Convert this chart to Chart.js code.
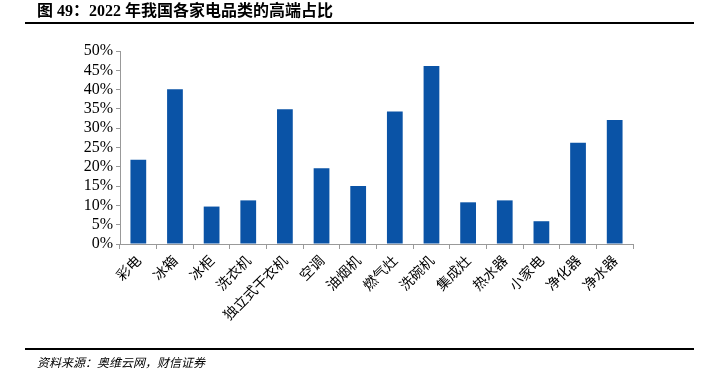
<!DOCTYPE html>
<html>
<head>
<meta charset="utf-8">
<script src="https://cdn.jsdelivr.net/npm/chart.js@4"></script>
<style>
  html, body { margin: 0; padding: 0; background: #fff; }
  #wrap { position: relative; width: 705px; height: 377px; }
</style>
</head>
<body>
<div id="wrap"><canvas id="chart" width="705" height="377"></canvas></div>
<script>
var categories = ["彩电", "冰箱", "冰柜", "洗衣机", "独立式干衣机", "空调", "油烟机", "燃气灶", "洗碗机", "集成灶", "热水器", "小家电", "净化器", "净水器"];
var highEndShare = [21.8, 40.1, 9.7, 11.3, 34.9, 19.6, 15.0, 34.3, 46.1, 10.8, 11.3, 5.9, 26.2, 32.1];
var titleText = "图 49：2022 年我国各家电品类的高端占比";
var sourceText = "资料来源：奥维云网，财信证券";

// title, footer and the two rules
var framePlugin = {
  id: "frame",
  afterDraw: function(chart) {
    var ctx = chart.ctx;
    ctx.save();
    ctx.fillStyle = "#000";
    ctx.textBaseline = "middle";
    ctx.font = "bold 16px 'Liberation Serif', 'Noto Sans CJK SC'";
    ctx.fillText(titleText, 37, 12);
    ctx.font = "italic 12px 'Noto Sans CJK SC'";
    ctx.fillText(sourceText, 37, 362);
    ctx.strokeStyle = "#000";
    ctx.lineWidth = 2;
    ctx.beginPath();
    ctx.moveTo(25, 23); ctx.lineTo(694, 23);
    ctx.moveTo(25, 349); ctx.lineTo(694, 349);
    ctx.stroke();
    ctx.restore();
  }
};

var ctx = document.getElementById("chart").getContext("2d");
new Chart(ctx, {
  type: "bar",
  data: {
    labels: categories,
    datasets: [{
      data: highEndShare,
      backgroundColor: "#0A53A6",
      barPercentage: 0.43,
      categoryPercentage: 1
    }]
  },
  options: {
    responsive: false,
    animation: false,
    layout: { padding: { left: 0, right: 72, top: 51, bottom: 0 } },
    plugins: { legend: { display: false }, tooltip: { enabled: false } },
    scales: {
      x: {
        afterFit: function(scale) { scale.height = 133; },
        grid: { offset: true, drawOnChartArea: false, tickLength: 5, color: "#999" },
        border: { color: "#999" },
        ticks: {
          minRotation: 45, maxRotation: 45, padding: 3, autoSkip: false,
          color: "#000",
          font: { family: "'Noto Sans CJK SC'", size: 14 }
        }
      },
      y: {
        min: 0, max: 50,
        afterFit: function(scale) { scale.width = 120; },
        grid: { drawOnChartArea: false, tickLength: 4, color: "#999" },
        border: { color: "#999" },
        ticks: {
          stepSize: 5, padding: 3, autoSkip: false,
          color: "#000",
          font: { family: "'Liberation Serif'", size: 16 },
          callback: function(v) { return v + "%"; }
        }
      }
    }
  },
  plugins: [framePlugin]
});
</script>
</body>
</html>
